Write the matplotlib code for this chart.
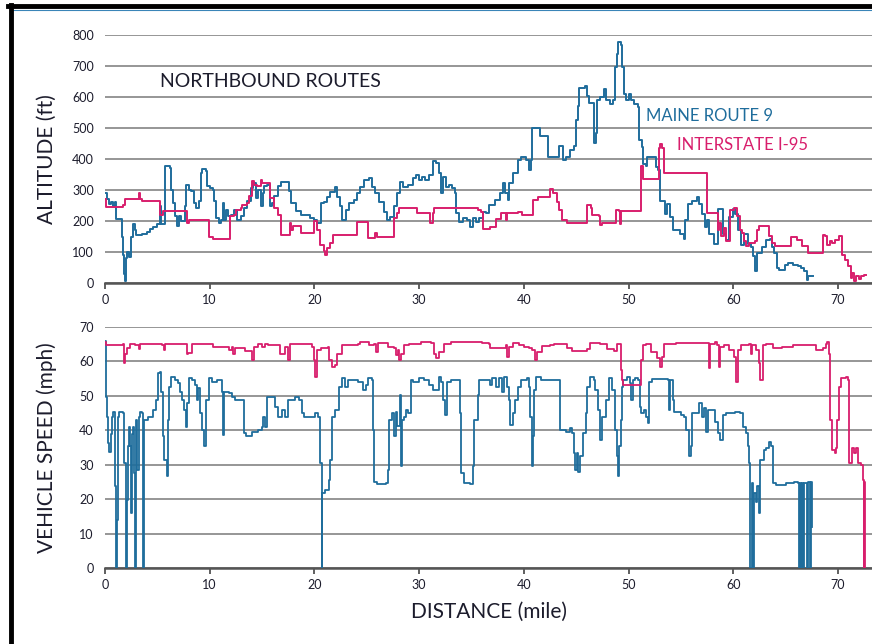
import matplotlib
matplotlib.use('Agg')
import matplotlib.pyplot as plt
from matplotlib.lines import Line2D

# altitude, Maine Route 9 (mile, ft)
alt_route9_mi = [0.0, 0.2, 0.4, 0.6, 0.8, 1.0, 1.05, 1.5, 1.6, 1.75, 1.85, 1.9, 2.0, 2.1, 2.3, 2.5, 2.7, 2.85, 3.0, 3.5,
                 4.0, 4.3, 4.6, 5.0, 5.25, 5.35, 5.7, 6.2, 6.3, 6.5, 6.7, 6.9, 7.1, 7.3, 7.6, 7.75, 8.0, 8.2, 8.5, 8.7,
                 9.0, 9.2, 9.3, 9.65, 9.7, 10.0, 10.3, 10.4, 10.6, 10.85, 11.1, 11.3, 11.4, 11.55, 11.7, 12.0, 12.3, 12.65, 13.0, 13.3,
                 13.6, 13.9, 14.1, 14.4, 14.6, 14.9, 15.05, 15.2, 15.5, 15.8, 15.95, 16.1, 16.5, 16.8, 17.4, 17.6, 17.8, 18.2, 18.7, 19.3,
                 19.6, 20.0, 20.25, 20.6, 20.9, 21.2, 21.5, 21.95, 22.2, 22.4, 22.65, 23.0, 23.3, 23.8, 24.1, 24.4, 24.7, 25.2, 25.5, 25.8,
                 26.2, 26.6, 26.9, 27.2, 27.6, 27.9, 28.2, 28.5, 28.9, 29.4, 29.7, 30.0, 30.3, 30.6, 30.9, 31.3, 31.6, 31.9, 32.1, 32.3,
                 32.6, 32.9, 33.1, 33.4, 33.5, 33.8, 34.2, 34.6, 34.85, 35.1, 35.4, 35.7, 36.1, 36.4, 36.7, 37.2, 37.7, 38.0, 38.2, 38.5,
                 38.6, 39.0, 39.4, 39.7, 40.2, 40.5, 40.7, 40.8, 41.3, 41.5, 42.1, 42.3, 43.3, 43.4, 43.7, 44.0, 44.4, 44.8, 45.0, 45.15,
                 45.3, 45.8, 46.0, 46.2, 46.6, 46.7, 46.9, 47.0, 47.3, 47.7, 47.8, 48.2, 48.5, 48.7, 48.85, 49.0, 49.3, 49.4, 49.6, 49.8,
                 50.0, 50.2, 50.5, 50.9, 51.0, 51.3, 51.4, 51.7, 51.8, 52.5, 52.6, 52.8, 53.0, 53.5, 53.7, 54.0, 54.2, 54.9, 55.3, 55.4,
                 55.7, 56.1, 56.5, 56.7, 57.0, 57.3, 57.5, 57.7, 58.2, 58.5, 58.9, 59.0, 59.3, 59.6, 60.0, 60.2, 60.5, 60.7, 61.0, 61.4,
                 61.7, 61.9, 62.1, 62.3, 62.7, 63.1, 63.5, 63.7, 63.9, 64.2, 64.4, 64.9, 65.2, 65.7, 66.2, 66.5, 66.8, 67.0, 67.1, 67.6]
alt_route9_ft = [290, 270, 255, 262, 250, 262, 205, 205, 150, 90, 30, 5, 80, 100, 85, 150, 190, 170, 156, 158,
                 165, 175, 180, 190, 250, 190, 376, 370, 300, 258, 215, 183, 215, 199, 247, 317, 301, 296, 258, 242,
                 263, 355, 368, 360, 312, 306, 300, 263, 210, 194, 204, 258, 204, 237, 215, 220, 237, 204, 215, 242,
                 263, 306, 323, 274, 301, 247, 290, 312, 317, 247, 258, 280, 312, 325, 325, 296, 258, 231, 220, 220,
                 210, 204, 192, 257, 262, 279, 295, 311, 279, 247, 203, 236, 257, 268, 290, 311, 333, 338, 311, 290,
                 262, 230, 203, 214, 247, 290, 327, 311, 316, 338, 349, 333, 343, 333, 349, 392, 387, 354, 290, 343,
                 311, 316, 306, 290, 225, 198, 209, 203, 182, 209, 198, 209, 230, 225, 252, 268, 290, 322, 290, 268,
                 322, 354, 398, 408, 398, 365, 398, 500, 500, 473, 473, 408, 408, 441, 398, 408, 430, 441, 527, 570,
                 630, 635, 603, 581, 581, 452, 484, 589, 600, 627, 589, 578, 589, 697, 740, 778, 767, 697, 611, 589,
                 611, 589, 578, 567, 460, 438, 385, 379, 406, 406, 374, 363, 266, 223, 255, 213, 170, 159, 143, 202,
                 255, 266, 277, 255, 223, 180, 202, 159, 127, 240, 240, 159, 138, 213, 240, 223, 170, 122, 159, 127,
                 116, 86, 38, 97, 116, 138, 143, 116, 97, 48, 43, 59, 65, 59, 54, 48, 38, 11, 24, 24]

# altitude, Interstate I-95 (mile, ft)
alt_i95_mi = [0.0, 0.1, 1.6, 1.7, 1.9, 3.0, 3.2, 3.3, 3.5, 5.2, 5.3, 5.5, 7.75, 7.8, 8.0, 9.8, 9.95, 10.3, 11.9, 11.95,
              12.35, 12.5, 13.0, 13.1, 13.6, 13.8, 14.0, 14.2, 14.55, 14.9, 15.0, 15.7, 15.8, 16.1, 16.5, 16.8, 17.6, 17.65, 17.75, 18.0,
              18.5, 18.7, 19.8, 20.0, 20.25, 20.5, 20.9, 21.0, 21.2, 21.5, 21.8, 24.05, 24.1, 25.1, 25.15, 25.7, 25.8, 26.0, 27.5, 27.6,
              27.9, 28.1, 29.7, 29.8, 31.0, 31.05, 31.3, 31.35, 31.4, 35.2, 35.6, 35.9, 36.1, 36.6, 36.8, 37.3, 37.8, 38.2, 38.3, 38.4,
              39.4, 39.8, 40.8, 40.9, 41.4, 42.2, 42.5, 42.8, 43.2, 43.4, 43.6, 44.1, 45.9, 46.0, 46.4, 46.5, 47.2, 47.3, 47.5, 48.6,
              48.8, 49.1, 49.2, 49.3, 51.1, 51.2, 51.35, 52.8, 52.9, 53.0, 53.2, 53.35, 57.4, 57.5, 58.4, 58.5, 58.6, 58.8, 59.1, 59.3,
              59.6, 59.7, 60.1, 60.4, 60.6, 60.85, 61.0, 61.2, 61.5, 62.1, 62.3, 62.5, 63.1, 63.4, 63.7, 64.0, 65.3, 65.5, 66.1, 66.6,
              67.1, 68.4, 68.6, 68.8, 69.0, 69.2, 69.4, 69.7, 70.1, 70.35, 70.4, 70.7, 71.0, 71.2, 71.3, 71.5, 71.7, 72.0, 72.2, 72.5,
              72.65]
alt_i95_ft = [270, 245, 245, 253, 271, 271, 290, 271, 263, 263, 220, 231, 231, 194, 204, 204, 150, 142, 142, 215,
              220, 237, 242, 253, 258, 280, 328, 317, 312, 333, 323, 323, 274, 242, 220, 156, 156, 194, 172, 183,
              183, 161, 161, 199, 172, 124, 102, 91, 113, 129, 155, 155, 198, 198, 144, 144, 160, 149, 149, 209,
              225, 243, 243, 227, 227, 192, 192, 227, 243, 243, 235, 230, 173, 173, 182, 205, 227, 227, 203, 227,
              230, 219, 219, 268, 278, 278, 302, 289, 262, 235, 203, 192, 192, 252, 241, 219, 216, 187, 194, 194,
              237, 231, 191, 231, 231, 376, 335, 335, 435, 449, 435, 355, 355, 226, 226, 172, 194, 151, 177, 134,
              134, 237, 242, 215, 172, 161, 134, 118, 129, 134, 172, 183, 183, 151, 129, 118, 118, 148, 140, 118,
              97, 97, 156, 151, 124, 134, 129, 140, 151, 151, 91, 75, 54, 16, 32, 5, 22, 13, 22, 27,
              27]

# vehicle speed, Maine Route 9 (mile, mph)
spd_route9_mi = [0.0, 0.05, 0.15, 0.3, 0.4, 0.55, 0.65, 0.8, 0.95, 1.0, 1.05, 1.1, 1.2, 1.35, 1.75, 1.85, 2.0, 2.1, 2.2, 2.3,
                 2.4, 2.5, 2.6, 2.7, 2.8, 2.9, 2.95, 3.1, 3.2, 3.35, 3.5, 3.6, 3.7, 3.75, 4.1, 4.6, 4.9, 5.1, 5.25, 5.35,
                 5.5, 5.65, 5.9, 6.0, 6.1, 6.3, 6.7, 6.95, 7.2, 7.35, 7.5, 7.7, 7.8, 8.0, 8.35, 8.6, 8.75, 8.9, 9.1, 9.3,
                 9.5, 9.6, 9.9, 10.2, 10.7, 11.0, 11.15, 11.3, 11.4, 11.8, 12.1, 12.4, 13.05, 13.3, 13.5, 14.0, 14.65, 14.95, 15.1, 15.3,
                 15.45, 15.9, 16.2, 16.55, 16.9, 17.2, 17.5, 18.15, 18.5, 18.8, 19.0, 20.05, 20.3, 20.5, 20.7, 20.75, 21.0, 21.35, 21.5, 21.65,
                 22.0, 22.2, 22.35, 22.6, 22.9, 23.25, 24.2, 24.6, 24.9, 25.1, 25.5, 25.55, 25.7, 26.0, 26.8, 27.0, 27.1, 27.4, 27.6, 27.8,
                 27.9, 28.2, 28.25, 28.4, 28.6, 28.7, 28.9, 29.2, 29.4, 30.0, 30.5, 30.95, 31.3, 31.8, 31.9, 32.1, 32.3, 32.5, 32.7, 33.0,
                 33.8, 33.95, 34.0, 34.3, 34.9, 35.1, 35.2, 35.6, 35.7, 36.5, 36.8, 37.0, 37.3, 37.6, 37.9, 38.1, 38.4, 38.6, 38.7, 38.95,
                 39.2, 39.4, 39.7, 40.3, 40.5, 40.6, 40.8, 40.9, 41.0, 41.2, 41.6, 43.2, 43.5, 44.0, 44.4, 44.6, 44.8, 44.9, 45.1, 45.2,
                 45.4, 45.65, 45.9, 46.0, 46.3, 46.7, 46.8, 47.1, 47.3, 47.5, 47.8, 48.1, 48.4, 48.7, 48.9, 49.0, 49.1, 49.3, 49.4, 49.5,
                 49.85, 50.1, 50.2, 50.4, 50.6, 50.9, 51.05, 51.2, 51.45, 51.7, 51.9, 52.0, 52.2, 53.8, 53.9, 54.0, 54.2, 54.3, 54.6, 55.0,
                 55.3, 55.5, 55.8, 55.95, 56.1, 56.6, 56.7, 57.0, 57.2, 57.4, 57.6, 58.0, 58.3, 58.5, 58.7, 59.0, 59.3, 60.2, 60.6, 60.9,
                 61.2, 61.4, 61.5, 61.6, 61.75, 61.9, 62.0, 62.2, 62.3, 62.5, 62.6, 62.9, 63.1, 63.4, 63.6, 63.8, 64.1, 65.0, 65.8, 66.2,
                 66.25, 66.35, 66.5, 66.6, 66.7, 66.8, 67.0, 67.1, 67.3, 67.4, 67.5]
spd_route9_mph = [66, 49.8, 44, 36.2, 33.8, 39, 44, 45.4, 43, 23.7, 0, 14, 44, 45.4, 45, 30.4, 0, 19.8, 35.3, 41,
                  35.3, 16, 39, 41, 27.5, 0, 43, 28.5, 44, 45.4, 45, 0, 18.8, 43, 44, 45.9, 48.8, 56.5, 57, 51.2,
                  38.2, 31.4, 26.6, 43, 52.7, 55.4, 54.6, 53.6, 51.2, 48.8, 45.9, 41, 47.8, 55.1, 54.6, 53.1, 48.8, 52.2, 44.9, 40.1,
                  35.3, 48.8, 55.1, 54.1, 54.6, 54.6, 51.2, 38.6, 51.2, 50.7, 49.8, 48.8, 48.8, 39.1, 38.2, 39.6, 40.1, 41, 44, 41,
                  49.8, 49.8, 46.9, 44, 45.9, 44, 48.8, 49.8, 48.8, 44.9, 44, 44.9, 44, 30.4, 0, 21.7, 22.7, 25.6, 31.4, 44,
                  45.9, 45.9, 52.7, 55.1, 52.7, 54.6, 54.1, 51.7, 53.1, 55.1, 54.6, 40.1, 25.1, 24.4, 24.8, 28.5, 43, 44.9, 38.2, 45.4,
                  41.1, 50.2, 29.5, 43, 44, 45.9, 44.9, 54.6, 54.1, 55.1, 54.6, 53.1, 51.7, 51.7, 55.6, 54.1, 48.8, 44.4, 54.1, 54.6,
                  54.6, 44.9, 27.5, 24.8, 24.4, 29.5, 43, 50.2, 54.6, 54.6, 53.1, 55.1, 52.7, 55.1, 51.2, 55.6, 52.7, 48.8, 41.5, 44.9,
                  48.8, 52.7, 54.6, 55.1, 52.7, 44, 29.5, 38.2, 51.7, 55.6, 54.6, 54.6, 40.1, 39.6, 40.6, 39.1, 33.3, 28.5, 33.3, 28,
                  32.4, 39.1, 44.9, 52.7, 55.4, 54.6, 51.7, 45.9, 37.2, 44, 48.8, 55.1, 51.7, 40.1, 32.4, 26.6, 35.3, 43, 52.7, 54.6,
                  55.6, 53.6, 48.8, 54.6, 55.1, 54.6, 46.9, 44.9, 45.9, 44, 42, 54.1, 54.8, 54.6, 45.9, 54.6, 48.8, 45.4, 45.4, 44.4,
                  44, 40.1, 32.4, 35.3, 44.9, 44.9, 47.8, 44, 46.4, 39.6, 45.9, 45.9, 42.5, 39.1, 37.2, 44.4, 44.9, 45.4, 44.9, 41,
                  39.1, 35.3, 30.4, 0, 24.6, 0, 21.7, 19.3, 23.7, 15.9, 31.4, 34.3, 34.8, 36.7, 35.3, 24.6, 24.2, 24.6, 25.1, 24.6,
                  0, 24.6, 0, 24.6, 0, 24.6, 0, 25.1, 0, 25.1, 12]

# vehicle speed, Interstate I-95 (mile, mph)
spd_i95_mi = [0.0, 0.1, 1.6, 1.75, 1.85, 1.95, 2.1, 2.4, 2.9, 3.2, 3.35, 5.4, 5.6, 5.7, 7.6, 7.8, 7.95, 8.3, 9.85, 10.3,
              11.8, 12.1, 12.25, 12.4, 13.4, 14.0, 14.05, 14.25, 14.6, 14.95, 15.3, 15.6, 16.2, 16.7, 16.9, 17.2, 17.5, 17.7, 18.1, 18.5,
              19.75, 19.95, 20.1, 20.2, 20.6, 21.3, 21.4, 21.65, 22.0, 22.2, 22.6, 24.2, 24.4, 25.2, 25.7, 25.9, 26.1, 27.0, 27.6, 27.8,
              27.95, 28.1, 28.3, 28.6, 29.0, 30.2, 31.1, 31.4, 31.6, 31.9, 32.4, 33.0, 35.7, 36.0, 36.7, 36.8, 38.1, 38.25, 38.4, 38.6,
              39.0, 39.5, 40.0, 40.5, 40.8, 41.1, 41.3, 41.7, 42.5, 42.9, 43.5, 44.1, 44.6, 46.0, 46.3, 47.3, 47.9, 48.6, 48.9, 49.2,
              49.3, 49.4, 49.5, 51.1, 51.2, 51.4, 51.7, 52.1, 52.7, 53.0, 53.2, 53.4, 54.5, 57.5, 57.65, 57.8, 58.3, 58.45, 58.6, 58.75,
              59.1, 59.6, 60.1, 60.3, 60.45, 60.7, 61.5, 61.65, 61.8, 62.2, 62.5, 62.6, 62.8, 63.1, 63.8, 64.7, 65.7, 67.3, 67.9, 68.6,
              68.9, 69.0, 69.1, 69.2, 69.4, 69.7, 69.85, 69.95, 70.1, 70.3, 70.8, 71.0, 71.05, 71.1, 71.3, 71.5, 71.7, 71.9, 72.2, 72.4,
              72.45, 72.5, 72.55]
spd_i95_mph = [65.7, 64.7, 64.7, 65.2, 59.4, 62.3, 64, 65.2, 64.7, 63.5, 65.2, 64.7, 63.3, 65.2, 65, 62.3, 62.5, 65.2, 65.2, 64.3,
               63.3, 64.3, 62.3, 63.8, 63.1, 62.3, 60.4, 64.3, 65.2, 64.3, 65.2, 64.7, 64.7, 62.3, 62.3, 64.3, 60.4, 65.2, 65.2, 65,
               64.3, 60.4, 55.6, 63.3, 63.8, 64.3, 60.4, 58.5, 59, 62.3, 64.7, 65, 65.7, 64.7, 65.2, 62.8, 65.4, 64.3, 63.8, 61.8,
               63.3, 60.4, 62.3, 64.7, 65.2, 65.7, 65.4, 62.3, 60.9, 62.8, 65.2, 65.5, 65.7, 65.4, 65, 63.8, 63.8, 64.7, 61.4, 64.3,
               65.4, 64.7, 64.3, 63.8, 63.3, 60.4, 62.8, 64.4, 64.7, 65.2, 65, 63.8, 63.1, 63.5, 65.4, 65, 63.5, 63.1, 65, 65,
               57.5, 54.6, 53.1, 53.1, 60.4, 64.7, 65.2, 62.8, 60.9, 58.5, 61.4, 65.2, 65.4, 65.4, 58, 65.2, 65.7, 64.7, 58.5, 64.3,
               64.7, 63.3, 61.4, 54.1, 63.3, 64.7, 65, 62.3, 64.7, 63.3, 59.4, 54.6, 64.7, 65.2, 64, 64.3, 64.7, 64.7, 63.3, 63.8,
               65.2, 65.7, 62.3, 43, 34.3, 33.3, 35, 43, 52.7, 55.1, 55.4, 54.6, 43, 30.4, 34.8, 33.3, 34.8, 30.4, 30, 25.6,
               0, 25, 0]

blue = '#1f6d9c'
pink = '#d81e6c'
text_col = '#1c1c2c'
grid_col = '#8e8e8e'

plt.rcParams['font.family'] = ['Lato', 'DejaVu Sans']

fig = plt.figure(figsize=(8.72, 6.44), dpi=100)
ax1 = fig.add_axes([105/872, 1 - 283/644, 767/872, 248/644])
ax2 = fig.add_axes([105/872, 1 - 568/644, 767/872, 241/644])

ax1.plot(alt_route9_mi, alt_route9_ft, color=blue, lw=1.4, drawstyle='steps-post', zorder=3)
ax1.plot(alt_i95_mi, alt_i95_ft, color=pink, lw=1.4, drawstyle='steps-post', zorder=3)
ax2.plot(spd_route9_mi, spd_route9_mph, color=blue, lw=1.3, drawstyle='steps-post', zorder=3)
ax2.plot(spd_i95_mi, spd_i95_mph, color=pink, lw=1.3, drawstyle='steps-post', zorder=3)

ax1.set_ylim(0, 800)
ax1.set_yticks(range(0, 801, 100))
ax2.set_ylim(0, 70)
ax2.set_yticks(range(0, 71, 10))

for ax in (ax1, ax2):
    ax.set_xlim(0, 73.25)
    ax.set_xticks(range(0, 71, 10))
    for s in ('top', 'right', 'left'):
        ax.spines[s].set_visible(False)
    ax.spines['bottom'].set_color('#555555')
    ax.spines['bottom'].set_linewidth(1.8)
    ax.grid(axis='y', color=grid_col, lw=1.3)
    ax.set_axisbelow(True)
    ax.tick_params(axis='x', length=4, width=1.2, color='#444444', labelsize=9,
                   labelcolor=text_col, pad=4)
    ax.tick_params(axis='y', length=0, labelsize=9, labelcolor=text_col, pad=8)

ax1.set_ylabel('ALTITUDE (ft)', fontsize=15, color=text_col)
ax2.set_ylabel('VEHICLE SPEED (mph)', fontsize=15, color=text_col)
ax2.set_xlabel('DISTANCE (mile)', fontsize=15, color=text_col, labelpad=8)
ax1.yaxis.set_label_coords(-48/767, 0.5)
ax2.yaxis.set_label_coords(-48/767, 0.5)

ax1.text(5.3, 650, 'NORTHBOUND ROUTES', fontsize=14, color=text_col, va='center')
ax1.text(51.7, 538, 'MAINE ROUTE 9', fontsize=12, color=blue, va='center')
ax1.text(54.6, 444, 'INTERSTATE I-95', fontsize=12, color=pink, va='center')

# page frame
fig.add_artist(Line2D([8/872, 1], [1 - 6/644, 1 - 6/644], color='black', lw=3.5))
fig.add_artist(Line2D([13/872, 1], [1 - 10/644, 1 - 10/644], color='#3a85b8', lw=0.8))
fig.add_artist(Line2D([10.5/872, 10.5/872], [0, 1 - 5/644], color='black', lw=3.5))

fig.savefig('out.png', dpi=100)
